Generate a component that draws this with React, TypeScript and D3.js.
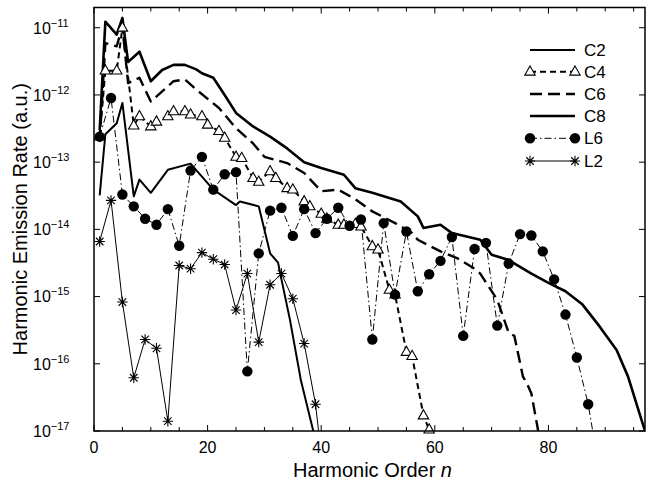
import React from "react";
import * as d3 from "d3";

const W = 646;
const H = 482;
const PL = 94, PR = 645, PT = 7.5, PB = 431;

const xDomain = [0, 97];
const yDomain = [1e-17, 2e-11];
const xTickLabels = [0, 20, 40, 60, 80];
const xMinorTicks = d3.range(0, 97, 5);
const yTickExps = [-17, -16, -15, -14, -13, -12, -11];

// C8 thick solid
const c8N = [1, 2, 4, 5, 6, 8, 10, 12, 14, 16, 18, 19, 21, 23, 25, 28, 31, 34, 37, 40, 44, 46, 49, 51, 54, 57, 58, 61, 63, 68, 70, 73, 77, 80, 83, 86, 89, 92, 94, 97];
const c8V = [3e-13, 1.23e-11, 7.9e-12, 1.4e-11, 3.1e-12, 4.4e-12, 1.6e-12, 2.35e-12, 2.8e-12, 2.8e-12, 2.4e-12, 2.1e-12, 1.8e-12, 1.0e-12, 5.4e-13, 3.4e-13, 2.4e-13, 1.6e-13, 1.0e-13, 8.2e-14, 6.5e-14, 4.1e-14, 3.5e-14, 3.1e-14, 2.6e-14, 1.56e-14, 1.05e-14, 1.17e-14, 8.8e-15, 7.0e-15, 4.2e-15, 3.5e-15, 2.2e-15, 1.6e-15, 1.2e-15, 7.6e-16, 3.6e-16, 1.6e-16, 6.5e-17, 1e-17];

// C6 long dashed
const c6N = [1, 2, 4, 5, 6, 8, 10, 14, 16, 18, 22, 25, 28, 30, 34, 37, 40, 43, 46, 49, 53, 56, 57, 61, 64, 67, 68, 71, 73, 74, 75.5, 76.3, 77, 78.2];
const c6V = [2e-13, 5.9e-12, 5.3e-12, 1.05e-11, 1.5e-12, 1.8e-12, 8e-13, 1.6e-12, 1.7e-12, 1.2e-12, 6.4e-13, 3.2e-13, 1.9e-13, 1.2e-13, 9.7e-14, 6.9e-14, 3.7e-14, 3.9e-14, 2.8e-14, 1.85e-14, 1.24e-14, 8.8e-15, 7.0e-15, 4.7e-15, 3.7e-15, 2.6e-15, 2.2e-15, 8.9e-16, 2.9e-16, 2.6e-16, 6.5e-17, 4.9e-17, 3.6e-17, 1e-17];

// C4 short dashed with triangles
const c4N = [1, 2, 4, 5, 7, 8, 10, 11, 13, 14, 16, 17, 19, 20, 22, 23, 25, 26, 28, 29, 31, 32, 34, 35, 37, 38, 40, 41, 43, 44, 46, 47, 49, 50, 52, 53, 55, 56, 58, 59];
const c4V = [2.4e-13, 2.3e-12, 2.3e-12, 1.0e-11, 3.5e-13, 4.8e-13, 3.4e-13, 4.0e-13, 4.8e-13, 5.7e-13, 5.7e-13, 5.1e-13, 4.8e-13, 3.6e-13, 2.9e-13, 2.3e-13, 1.2e-13, 1.15e-13, 5.8e-14, 5.1e-14, 7.3e-14, 5.8e-14, 4.1e-14, 3.9e-14, 2.6e-14, 2.2e-14, 1.7e-14, 1.44e-14, 1.17e-14, 1.17e-14, 1.2e-14, 1.1e-14, 5.6e-15, 5.0e-15, 1.26e-15, 1.07e-15, 1.5e-16, 1.3e-16, 1.7e-17, 1.05e-17];

// C2 medium solid
const c2N = [1, 2, 4, 5, 7, 8, 10, 13, 17, 21, 25, 25.7, 29, 31, 32.4, 33, 34.5, 36.4, 38.6, 39.5];
const c2V = [3.2e-14, 2.6e-13, 3.8e-13, 7.6e-13, 3.1e-14, 5.5e-14, 3.5e-14, 7.7e-14, 9.5e-14, 3.9e-14, 2.3e-14, 2.6e-14, 2.2e-14, 4.4e-15, 3.2e-15, 1.8e-15, 4.5e-16, 5.8e-17, 1e-17, 4e-18];

// L6 dash-dot with filled circles
const l6N = [1, 3, 5, 7, 9, 11, 13, 15, 17, 19, 21, 23, 25, 27, 29, 31, 33, 35, 37, 39, 41, 43, 45, 47, 49, 51, 53, 55, 57, 59, 61, 63, 65, 67, 69, 71, 73, 75, 77, 79, 81, 83, 85, 87, 89];
const l6V = [2.4e-13, 9e-13, 3.3e-14, 2.2e-14, 1.44e-14, 1.17e-14, 2.0e-14, 5.7e-15, 7.5e-14, 1.2e-13, 3.9e-14, 6.6e-14, 7.1e-14, 7.7e-17, 4.4e-15, 1.9e-14, 2.1e-14, 8.0e-15, 2.0e-14, 8.8e-15, 1.44e-14, 2.1e-14, 1.13e-14, 1.4e-14, 2.3e-16, 1.24e-14, 1.07e-15, 9.3e-15, 1.2e-15, 2.15e-15, 3.4e-15, 7.7e-15, 2.6e-16, 5.1e-15, 6.3e-15, 3.7e-16, 3.1e-15, 8.5e-15, 8.1e-15, 4.7e-15, 1.8e-15, 5.4e-16, 1.24e-16, 2.5e-17, 2.5e-18];

// L2 thin solid with stars
const l2N = [1, 3, 5, 7, 9, 11, 13, 15, 17, 19, 21, 23, 25, 27, 29, 31, 33, 35, 37, 39, 41];
const l2V = [6.6e-15, 2.7e-14, 8.3e-16, 6.2e-17, 2.3e-16, 1.7e-16, 1.4e-17, 2.9e-15, 2.6e-15, 4.5e-15, 3.6e-15, 3.0e-15, 6.3e-16, 2.2e-15, 2.1e-16, 1.5e-15, 2.2e-15, 9.3e-16, 2.0e-16, 2.5e-17, 8e-19];

const legendLabels = ["C2", "C4", "C6", "C8", "L6", "L2"];

const FONT = "'Liberation Sans', Arial, Helvetica, sans-serif";

const x = d3.scaleLinear().domain(xDomain).range([PL, PR]);
const y = d3.scaleLog().domain(yDomain).range([PB, PT]);

const zip = (ns: number[], vs: number[]) => ns.map((n, i) => [n, vs[i]] as [number, number]);
const lineGen = d3.line<[number, number]>().x((d) => x(d[0])).y((d) => y(d[1]));

const starPath = (r: number) => {
  const k = r * 0.72;
  return `M${-r},0L${r},0M0,${-r}L0,${r}M${-k},${-k}L${k},${k}M${-k},${k}L${k},${-k}`;
};
const triPath = "M0,-5.8L5.2,3.4L-5.2,3.4Z";

const inDomain = (d: [number, number]) => d[1] >= 0.99e-17 && d[1] <= yDomain[1];

function Triangle({ cx, cy }: { cx: number; cy: number }) {
  return <path d={triPath} transform={`translate(${cx},${cy})`} fill="#fff" stroke="#000" strokeWidth={1.1} />;
}
function Star({ cx, cy }: { cx: number; cy: number }) {
  return <path d={starPath(5.2)} transform={`translate(${cx},${cy})`} fill="none" stroke="#000" strokeWidth={1.1} />;
}
function Dot({ cx, cy }: { cx: number; cy: number }) {
  return <circle cx={cx} cy={cy} r={5.2} fill="#000" />;
}

export default function App() {
  const c8 = zip(c8N, c8V);
  const c6 = zip(c6N, c6V);
  const c4 = zip(c4N, c4V);
  const c2 = zip(c2N, c2V);
  const l6 = zip(l6N, l6V);
  const l2 = zip(l2N, l2V);

  const styles = {
    C2: { stroke: "#000", strokeWidth: 2, dash: undefined as string | undefined },
    C4: { stroke: "#000", strokeWidth: 2, dash: "6,4" },
    C6: { stroke: "#000", strokeWidth: 2.4, dash: "12,6" },
    C8: { stroke: "#000", strokeWidth: 2.6, dash: undefined },
    L6: { stroke: "#000", strokeWidth: 1, dash: "7,3,1.5,3" },
    L2: { stroke: "#000", strokeWidth: 1, dash: undefined },
  };

  const legendY = [50, 71.7, 94, 116, 138.3, 161];
  const lx1 = 530, lx2 = 575;

  return (
    <div style={{ position: "absolute", left: 0, top: 0, width: W, height: H, background: "#fff" }}>
      <svg width={W} height={H} viewBox={`0 0 ${W} ${H}`} style={{ display: "block" }}>
        <defs>
          <clipPath id="plotClip">
            <rect x={PL} y={PT} width={PR - PL} height={PB - PT} />
          </clipPath>
        </defs>
        <rect x={0} y={0} width={W} height={H} fill="#fff" />

        <g clipPath="url(#plotClip)" fill="none" strokeLinejoin="round">
          <path d={lineGen(l2) || ""} stroke="#000" strokeWidth={styles.L2.strokeWidth} />
          <path d={lineGen(l6) || ""} stroke="#000" strokeWidth={styles.L6.strokeWidth} strokeDasharray={styles.L6.dash} />
          <path d={lineGen(c2) || ""} stroke="#000" strokeWidth={styles.C2.strokeWidth} />
          <path d={lineGen(c4) || ""} stroke="#000" strokeWidth={styles.C4.strokeWidth} strokeDasharray={styles.C4.dash} />
          <path d={lineGen(c6) || ""} stroke="#000" strokeWidth={styles.C6.strokeWidth} strokeDasharray={styles.C6.dash} />
          <path d={lineGen(c8) || ""} stroke="#000" strokeWidth={styles.C8.strokeWidth} />
        </g>

        <g>
          {c4.filter(inDomain).map((d, i) => (
            <Triangle key={"t" + i} cx={x(d[0])} cy={y(d[1])} />
          ))}
          {l6.filter(inDomain).map((d, i) => (
            <Dot key={"c" + i} cx={x(d[0])} cy={y(d[1])} />
          ))}
          {l2.filter(inDomain).map((d, i) => (
            <Star key={"s" + i} cx={x(d[0])} cy={y(d[1])} />
          ))}
        </g>

        {/* frame */}
        <rect x={PL} y={PT} width={PR - PL} height={PB - PT} fill="none" stroke="#000" strokeWidth={1.5} />

        {/* x ticks */}
        <g stroke="#000" strokeWidth={1}>
          {xMinorTicks.map((t) => {
            const major = t % 20 === 0;
            const len = major ? 6 : 4;
            return (
              <g key={"xt" + t}>
                <line x1={x(t)} x2={x(t)} y1={PB} y2={PB - len} />
                <line x1={x(t)} x2={x(t)} y1={PT} y2={PT + len} />
              </g>
            );
          })}
          {yTickExps.map((e) => (
            <g key={"yt" + e}>
              <line x1={PL} x2={PL + 6} y1={y(Math.pow(10, e))} y2={y(Math.pow(10, e))} />
              <line x1={PR} x2={PR - 6} y1={y(Math.pow(10, e))} y2={y(Math.pow(10, e))} />
            </g>
          ))}
        </g>

        {/* x tick labels */}
        <g fontFamily={FONT} fontSize={16} fill="#000" textAnchor="middle">
          {xTickLabels.map((t) => (
            <text key={"xl" + t} x={x(t)} y={453}>
              {t}
            </text>
          ))}
        </g>

        {/* y tick labels */}
        <g fontFamily={FONT} fill="#000">
          {yTickExps.map((e) => {
            const yy = y(Math.pow(10, e));
            return (
              <text key={"yl" + e} x={33} y={yy + 5.8} fontSize={16}>
                10
                <tspan fontSize={11} dy={-7}>
                  {"\u2212" + Math.abs(e)}
                </tspan>
              </text>
            );
          })}
        </g>

        {/* axis titles */}
        <text x={(PL + PR) / 2 + 3} y={477} fontFamily={FONT} fontSize={20} textAnchor="middle" fill="#000">
          Harmonic Order <tspan fontStyle="italic">n</tspan>
        </text>
        <text
          transform={`translate(27,${(PT + PB) / 2}) rotate(-90)`}
          fontFamily={FONT}
          fontSize={20}
          textAnchor="middle"
          fill="#000"
        >
          Harmonic Emission Rate (a.u.)
        </text>

        {/* legend */}
        <g fontFamily={FONT} fontSize={17} fill="#000">
          {legendLabels.map((lab, i) => {
            const ly = legendY[i];
            const st = (styles as any)[lab];
            return (
              <g key={"lg" + lab}>
                <line x1={lx1} x2={lx2} y1={ly} y2={ly} stroke="#000" strokeWidth={st.strokeWidth} strokeDasharray={st.dash} />
                {lab === "C4" && (
                  <>
                    <Triangle cx={lx1} cy={ly} />
                    <Triangle cx={lx2} cy={ly} />
                  </>
                )}
                {lab === "L6" && (
                  <>
                    <Dot cx={lx1} cy={ly} />
                    <Dot cx={lx2} cy={ly} />
                  </>
                )}
                {lab === "L2" && (
                  <>
                    <Star cx={lx1} cy={ly} />
                    <Star cx={lx2} cy={ly} />
                  </>
                )}
                <text x={584} y={ly + 6}>
                  {lab}
                </text>
              </g>
            );
          })}
        </g>
      </svg>
    </div>
  );
}
